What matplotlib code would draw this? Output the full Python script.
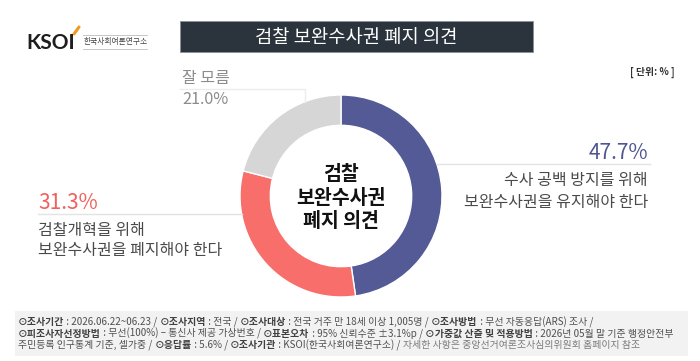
import matplotlib
matplotlib.use("Agg")
import matplotlib.pyplot as plt
from matplotlib.lines import Line2D
from matplotlib.patches import Rectangle
import numpy as np

plt.rcParams['font.family'] = ['Noto Sans CJK KR', 'DejaVu Sans']

# ---- data ----
categories = ["수사 공백 방지를 위해\n보완수사권을 유지해야 한다",
              "검찰개혁을 위해\n보완수사권을 폐지해야 한다",
              "잘 모름"]
values = [47.7, 31.3, 21.0]
colors = ['#535a96', '#f86e6b', '#d6d6d6']
label_colors = ['#4f5592', '#f0605d', '#8c8c8c']
title = "검찰 보완수사권 폐지 의견"
center_text = "검찰\n보완수사권\n폐지 의견"
unit_text = "[ 단위: % ]"

W, H = 700, 361
fig = plt.figure(figsize=(7, 3.61), dpi=100)
fig.patch.set_facecolor('white')


def px(x, y):
    return x / W, 1 - y / H


def fline(xs, ys, **kw):
    fx = [x / W for x in xs]
    fy = [1 - y / H for y in ys]
    fig.add_artist(Line2D(fx, fy, transform=fig.transFigure, **kw))


# ---- donut ----
cx, cy, R = 341, 196, 101
ax = fig.add_axes([(cx - R) / W, 1 - (cy + R) / H, 2 * R / W, 2 * R / H])
ax.pie(values, colors=colors, startangle=90, counterclock=False,
       wedgeprops=dict(width=0.3, edgecolor='white', linewidth=1.0))
ax.set_xlim(-1, 1)
ax.set_ylim(-1, 1)
ax.set_aspect('equal')
ax.axis('off')
ax.text(0, -0.02, center_text, ha='center', va='center', fontsize=14,
        fontweight='bold', color='#111111', linespacing=1.3)

# ---- title box ----
x0, y0 = px(180, 52)
fig.add_artist(Rectangle((x0, y0), (533 - 180) / W, (52 - 21) / H,
                         transform=fig.transFigure, facecolor='#2b333c',
                         edgecolor='#8a9099', linewidth=0.6))
fig.text(*px(356, 37), title, ha='center', va='center', fontsize=13.5,
         color='white')

# ---- logo ----
fig.text(*px(26, 43), "KSOI", ha='left', va='center', fontsize=15,
         fontweight='bold', color='#1e1e1e', family=['Lato', 'DejaVu Sans'])
fline([74, 79], [34, 27], color='#f29a1f', lw=2.2, solid_capstyle='round')
fline([83, 147], [35, 35], color='#bdbdbd', lw=0.6)
fline([83, 147], [49, 49], color='#bdbdbd', lw=0.6)
fig.text(*px(84, 42), "한국사회여론연구소", ha='left', va='center',
         fontsize=5.6, color='#444444')

# ---- unit ----
fig.text(*px(675, 72), unit_text, ha='right', va='center', fontsize=7,
         color='#333333', fontweight='bold')

# ---- leader lines ----
lc = '#e3e3e3'
yb = 164
fline([cx + np.sqrt(R**2 - (yb - cy)**2), 650], [yb, yb], color=lc, lw=1)
yr = 214
fline([38, cx - np.sqrt(R**2 - (yr - cy)**2)], [yr, yr], color=lc, lw=1)
yg = 89
xg = 305
fline([180, xg, xg], [yg, yg, cy - np.sqrt(R**2 - (xg - cx)**2)],
      color='#ececec', lw=1)

# ---- labels ----
desc_color = '#4a4a4a'
# blue
fig.text(*px(648, 153), f"{values[0]:.1f}%", ha='right', va='center',
         fontsize=15, color=label_colors[0])
for i, ln in enumerate(categories[0].split("\n")):
    fig.text(*px(648, 181 + 21 * i), ln, ha='right', va='center',
             fontsize=11.5, color=desc_color)
# red
fig.text(*px(38, 203), f"{values[1]:.1f}%", ha='left', va='center',
         fontsize=15, color=label_colors[1])
for i, ln in enumerate(categories[1].split("\n")):
    fig.text(*px(38, 230 + 21 * i), ln, ha='left', va='center',
             fontsize=11.5, color=desc_color)
# gray
fig.text(*px(182, 78), categories[2], ha='left', va='center',
         fontsize=11.5, color='#8c8c8c')
fig.text(*px(182, 100), f"{values[2]:.1f}%", ha='left', va='center',
         fontsize=11.7, color='#8c8c8c')

# ---- footer ----
x0, y0 = px(15, 356)
fig.add_artist(Rectangle((x0, y0), (688 - 15) / W, (356 - 311) / H,
                         transform=fig.transFigure, facecolor='#f2f2f2',
                         edgecolor='none'))

footer_lines = [
    [("⊙조사기간", 'b'), (" : 2026.06.22~06.23 / ", 'n'), ("⊙조사지역", 'b'),
     (" : 전국 / ", 'n'), ("⊙조사대상", 'b'), (" : 전국 거주 만 18세 이상 1,005명 / ", 'n'),
     ("⊙조사방법", 'b'), (" : 무선 자동응답(ARS) 조사 /", 'n')],
    [("⊙피조사자선정방법", 'b'), (" : 무선(100%) – 통신사 제공 가상번호 / ", 'n'),
     ("⊙표본오차", 'b'), (" : 95% 신뢰수준 ±3.1%p / ", 'n'),
     ("⊙가중값 산출 및 적용방법", 'b'), (" : 2026년 05월 말 기준 행정안전부", 'n')],
    [("주민등록 인구통계 기준, 셀가중 / ", 'n'), ("⊙응답률", 'b'), (" : 5.6% / ", 'n'),
     ("⊙조사기관", 'b'), (" : KSOI(한국사회여론연구소) / ", 'n'),
     ("자세한 사항은 중앙선거여론조사심의위원회 홈페이지 참조", 'l')],
]
footer_y = [322, 333.5, 345]
styles = {'b': dict(color='#404040', fontweight='bold'),
          'n': dict(color='#505050'),
          'l': dict(color='#7a7a7a')}
fig.canvas.draw()
renderer = fig.canvas.get_renderer()
fs = 7.1
for segs, yy in zip(footer_lines, footer_y):
    xcur = 18
    for s, st in segs:
        t = fig.text(*px(xcur, yy), s, ha='left', va='center', fontsize=fs,
                     **styles[st])
        bb = t.get_window_extent(renderer)
        xcur += bb.width

fig.savefig("out.png", dpi=100, facecolor='white')
